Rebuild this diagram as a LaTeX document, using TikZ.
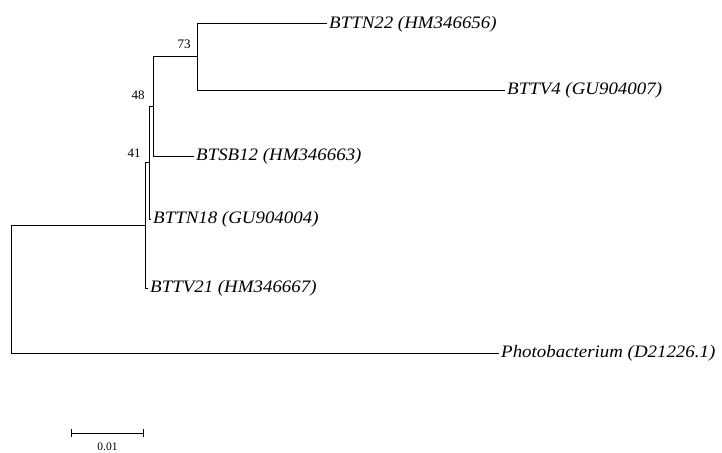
\documentclass[tikz,border=0pt]{standalone}
\usepackage{fontspec}
\setmainfont{Liberation Serif}
\newfontfamily\leaffont[FakeStretch=1.08]{Liberation Serif}
\usetikzlibrary{arrows.meta}
\begin{document}
\begin{tikzpicture}[x=1pt,y=-1pt,
  branch/.style={line width=1pt, black, line cap=rect},
  leaf/.style={anchor=west, inner xsep=3pt, inner ysep=0pt, font=\leaffont\itshape\fontsize{17.5}{20}\selectfont},
  boot/.style={inner sep=0pt, font=\fontsize{13}{15}\selectfont}]
\useasboundingbox (0,0) rectangle (722,452);
% internal nodes
\coordinate (r) at (11,289);
\coordinate (a) at (145,225);
\coordinate (n41) at (149,162.5);
\coordinate (n48) at (153,106.5);
\coordinate (n73) at (197,57);
% leaves
\node[leaf] (tn22) at (326,24) {BTTN22 (HM346656)};
\node[leaf] (tv4) at (504,90) {BTTV4 (GU904007)};
\node[leaf] (sb12) at (193,156) {BTSB12 (HM346663)};
\node[leaf] (tn18) at (150,219) {BTTN18 (GU904004)};
\node[leaf] (tv21) at (147,288) {BTTV21 (HM346667)};
\node[leaf] (photo) at (498,353) {Photobacterium (D21226.1)};
% branches
\draw[branch] (r) |- (a);
\draw[branch] (r) |- (photo.west);
\draw[branch] (a) |- (n41);
\draw[branch] (a) |- (tv21.west);
\draw[branch] (n41) |- (n48);
\draw[branch] (n41) |- (tn18.west);
\draw[branch] (n48) |- (n73);
\draw[branch] (n48) |- (sb12.west);
\draw[branch] (n73) |- (tn22.west);
\draw[branch] (n73) |- (tv4.west);
% bootstrap values
\node[boot] (b73) at (184,44) {73};
\node[boot] (b48) at (138,95) {48};
\node[boot] (b41) at (134,153) {41};
% scale bar
\coordinate (s1) at (71,433);
\coordinate (s2) at (144,433);
\draw[line width=1pt, {Bar[width=8pt]}-{Bar[width=8pt]}] (s1) -- (s2);
\node[boot, font=\fontsize{11.5}{13}\selectfont] (sl) at (107.5,447) {0.01};
\end{tikzpicture}
\end{document}
